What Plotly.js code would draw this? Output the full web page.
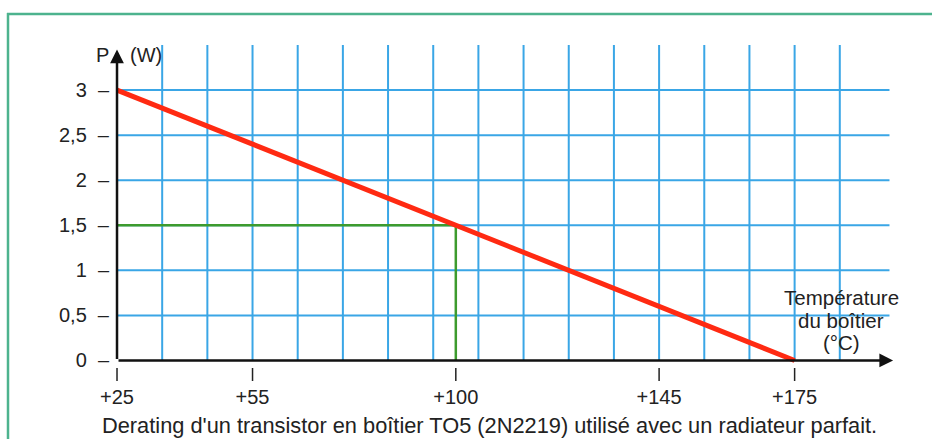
<!DOCTYPE html>
<html>
<head>
<meta charset="utf-8">
<script src="https://cdn.plot.ly/plotly-3.0.1.min.js"></script>
<style>html,body{margin:0;padding:0;background:#fff;overflow:hidden;}#chart{width:939px;height:439px;}</style>
</head>
<body>
<div id="chart"></div>
<script>
// ---- data ----
const tempC = [25, 175];            // derating line: temperature (°C)
const powerW = [3, 0];              // derating line: power (W)
const refTemp = [25, 100, 100];     // reading at +100 °C
const refPower = [1.5, 1.5, 0];
const xTickVals = [25, 55, 100, 145, 175];
const xTickText = ['+25', '+55', '+100', '+145', '+175'];
const yTickVals = [0, 0.5, 1, 1.5, 2, 2.5, 3];
const yTickText = ['0', '0,5', '1', '1,5', '2', '2,5', '3'];
const gridX = [35, 45, 55, 65, 75, 85, 95, 105, 115, 125, 135, 145, 155, 165, 175, 185];
const gridY = [0.5, 1, 1.5, 2, 2.5, 3];
const xTitleLines = ['Température', 'du boîtier', '(°C)'];
const captionText = "Derating d'un transistor en boîtier TO5 (2N2219) utilisé avec un radiateur parfait.";

// ---- geometry ----
const W = 939, H = 439;
const M = {l: 111, r: 45, t: 45, b: 74};
const xRange = [23.67, 197];
const yRange = [-0.05, 3.5];
const gridTop = 3.5, gridRight = 196;
const pw = W - M.l - M.r, ph = H - M.t - M.b;
const pxX = px => (px - M.l) / pw;
const pxY = py => (H - M.b - py) / ph;

// grid traces built from arrays
const gvx = [], gvy = [];
gridX.forEach(v => { gvx.push(v, v, null); gvy.push(0, gridTop, null); });
const ghx = [], ghy = [];
gridY.forEach(v => { ghx.push(tempC[0], gridRight, null); ghy.push(v, v, null); });

const blue = '#3aa6e6';
const traces = [
  {x: gvx, y: gvy, mode: 'lines', line: {color: blue, width: 2}, hoverinfo: 'skip'},
  {x: ghx, y: ghy, mode: 'lines', line: {color: blue, width: 2}, hoverinfo: 'skip'},
  {x: refTemp, y: refPower, mode: 'lines', line: {color: '#3d9b2e', width: 2.5}},
  {x: tempC, y: powerW, mode: 'lines', line: {color: '#ff2a12', width: 5}}
];

const txt = '#222';
const fam = 'Liberation Sans, Arial, sans-serif';
const frameColor = '#4db38e';
const shapes = [
  // frame (top and left edges only are visible)
  {type: 'line', xref: 'paper', yref: 'paper', x0: pxX(7), x1: pxX(932), y0: pxY(14), y1: pxY(14),
   line: {color: frameColor, width: 2.5}, layer: 'below'},
  {type: 'line', xref: 'paper', yref: 'paper', x0: pxX(8), x1: pxX(8), y0: pxY(13), y1: pxY(439),
   line: {color: frameColor, width: 2.5}, layer: 'below'}
];
// small tick marks under the x axis
xTickVals.forEach(v => shapes.push({type: 'line', xref: 'x', yref: 'paper', x0: v, x1: v,
  y0: pxY(368), y1: pxY(381), line: {color: txt, width: 1.5}}));

const annotations = [
  // axes with arrows
  {x: tempC[0], y: 3.45, ax: tempC[0], ay: 0, xref: 'x', yref: 'y', axref: 'x', ayref: 'y',
   text: '', showarrow: true, arrowhead: 2, arrowsize: 1.1, arrowwidth: 2.5, arrowcolor: '#111'},
  {x: 196.8, y: 0, ax: tempC[0], ay: 0, xref: 'x', yref: 'y', axref: 'x', ayref: 'y',
   text: '', showarrow: true, arrowhead: 2, arrowsize: 1.1, arrowwidth: 2.5, arrowcolor: '#111'},
  {x: pxX(102.5), y: pxY(55), xref: 'paper', yref: 'paper', xanchor: 'center', yanchor: 'middle',
   text: 'P', showarrow: false, font: {family: fam, size: 20, color: txt}},
  {x: pxX(146), y: pxY(55), xref: 'paper', yref: 'paper', xanchor: 'center', yanchor: 'middle',
   text: '(W)', showarrow: false, font: {family: fam, size: 20, color: txt}},
  {x: pxX(100), y: pxY(425.5), xref: 'paper', yref: 'paper', xanchor: 'left', yanchor: 'middle',
   text: captionText, showarrow: false, font: {family: fam, size: 21.8, color: txt}}
];
const titleY = [297, 320, 342];
xTitleLines.forEach((t, i) => annotations.push({
  x: pxX(841), y: pxY(titleY[i]), xref: 'paper', yref: 'paper', xanchor: 'center', yanchor: 'middle',
  text: t, showarrow: false, font: {family: fam, size: 20.5, color: txt}}));

const layout = {
  width: W, height: H,
  margin: M,
  paper_bgcolor: '#fff', plot_bgcolor: 'rgba(0,0,0,0)',
  showlegend: false,
  font: {family: fam, size: 20, color: txt},
  xaxis: {range: xRange, showgrid: false, zeroline: false, showline: false,
          tickmode: 'array', tickvals: xTickVals, ticktext: xTickText, ticks: '',
          ticklabelstandoff: 18, tickfont: {family: fam, size: 20, color: txt}},
  yaxis: {range: yRange, showgrid: false, zeroline: false, showline: false,
          tickmode: 'array', tickvals: yTickVals, ticktext: yTickText.map(t => t + '  –'), ticks: '',
          ticklabelstandoff: 1, tickfont: {family: fam, size: 20, color: txt}},
  shapes: shapes,
  annotations: annotations
};

Plotly.newPlot('chart', traces, layout, {displayModeBar: false, staticPlot: true});
</script>
</body>
</html>
